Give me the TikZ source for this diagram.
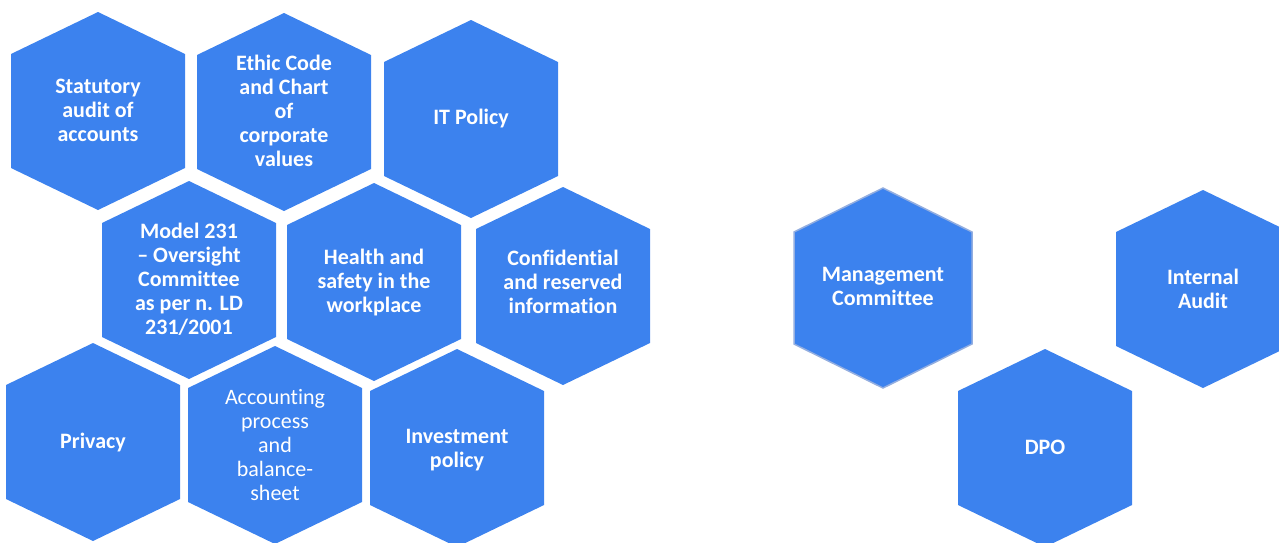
\documentclass[tikz,border=0pt]{standalone}
\usepackage{fontspec}
\setmainfont{Carlito}[Ligatures=CommonOff]
\usepackage{tikz}
\definecolor{hexblue}{HTML}{3C82EE}
\definecolor{hexrim}{HTML}{93AEE0}

\begin{document}
\begin{tikzpicture}[x=1pt, y=-1pt,
  hexcell/.pic={\fill[hexblue] (0,-99) -- (87,-57) -- (87,57) -- (0,99)
                -- (-87,57) -- (-87,-57) -- cycle;},
  rimcell/.pic={\filldraw[fill=hexblue, draw=hexrim, line width=1.5pt]
                (0,-100) -- (89,-56) -- (89,56) -- (0,100)
                -- (-89,56) -- (-89,-56) -- cycle;},
  cell/.style={text=white, align=center, inner sep=0pt,
               font=\fontsize{22}{24}\selectfont\bfseries},
  plaincell/.style={cell, font=\fontsize{22}{24}\selectfont}]
\useasboundingbox (0,0) rectangle (1279,542);
\clip (0,0) rectangle (1279,542);
% left cluster
\pic at (98,111) {hexcell};  \node[cell] (audit) at (98,110) {Statutory\\audit of\\accounts};
\pic at (284,112) {hexcell}; \node[cell] (ethic) at (284,111) {Ethic Code\\and Chart\\of\\corporate\\values};
\pic at (471,119) {hexcell}; \node[cell] (itpol) at (471,119) {IT Policy};
\pic at (189,280) {hexcell}; \node[cell] (model) at (189,279) {Model 231\\– Oversight\\Committee\\as per n. LD\\231/2001};
\pic at (374,282) {hexcell}; \node[cell] (health) at (374,283) {Health and\\safety in the\\workplace};
\pic at (563,286) {hexcell}; \node[cell] (secret) at (563,282) {Confidential\\and reserved\\information};
\pic at (93,442) {hexcell};  \node[cell] (privacy) at (93,442) {Privacy};
\pic at (275,445) {hexcell}; \node[plaincell] (books) at (275,445) {Accounting\\process\\and\\balance-\\sheet};
\pic at (457,448) {hexcell}; \node[cell] (invest) at (457,450) {Investment\\policy};
% right cluster
\pic at (883,288) {rimcell}; \node[cell] (board) at (883,286) {Management\\Committee};
\pic at (1203,289) {hexcell}; \node[cell] (intaudit) at (1203,289) {Internal\\Audit};
\pic at (1045,448) {hexcell}; \node[cell] (dpo) at (1045,447) {DPO};
\end{tikzpicture}
\end{document}
